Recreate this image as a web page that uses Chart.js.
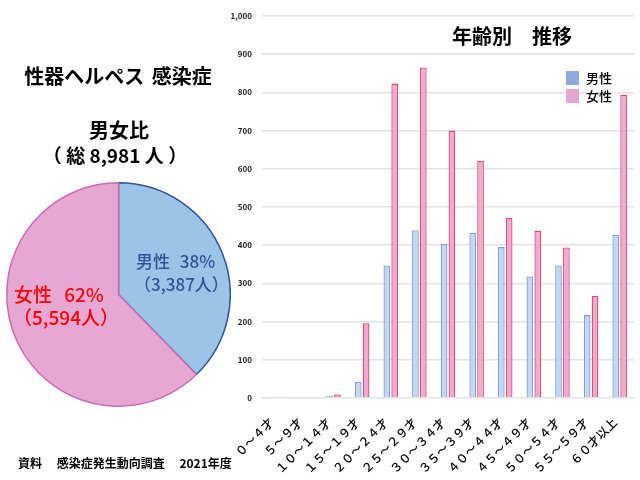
<!DOCTYPE html>
<html>
<head>
<meta charset="utf-8">
<script src="https://cdn.jsdelivr.net/npm/chart.js@4/dist/chart.umd.min.js"></script>
<style>
  html, body { margin:0; padding:0; background:#fff; }
  body { width:640px; height:480px; position:relative; overflow:hidden;
         font-family:"Noto Sans CJK JP","Noto Sans",sans-serif; color:#000; }
  .t { position:absolute; white-space:pre; line-height:1; }
  #bar { position:absolute; left:0; top:0; }
  #pie { position:absolute; left:6px; top:182px; }
  .lg { position:absolute; width:13px; height:14px; }
</style>
</head>
<body>
<canvas id="bar" width="640" height="480"></canvas>
<canvas id="pie" width="225" height="225"></canvas>

<div class="t" style="left:0;width:236px;text-align:center;top:66px;font-size:20px;font-weight:bold;word-spacing:3px;">性器ヘルペス 感染症</div>
<div class="t" style="left:0;width:238px;text-align:center;top:120px;font-size:20px;font-weight:bold;">男女比</div>
<div class="t" style="left:0;width:230px;text-align:center;top:145px;font-size:19px;font-weight:bold;">（ 総 8,981 人 ）</div>

<div class="t" style="left:136px;top:252px;font-size:17px;color:#2f5597;font-weight:500;word-spacing:6px;">男性 38%</div>
<div class="t" style="left:134px;top:275px;font-size:17px;color:#2f5597;font-weight:500;">（3,387人）</div>
<div class="t" style="left:14px;top:284px;font-size:19px;color:#ff0000;font-weight:500;word-spacing:8px;">女性 62%</div>
<div class="t" style="left:13px;top:307px;font-size:19px;color:#ff0000;font-weight:500;">（5,594人）</div>

<div class="t" style="left:452px;top:26px;font-size:20px;font-weight:bold;">年齢別　推移</div>

<div class="lg" style="left:566px;top:71px;background:#8eaadb;"></div>
<div class="t" style="left:586px;top:71px;font-size:13px;font-weight:500;">男性</div>
<div class="lg" style="left:566px;top:89px;background:#e6a6d2;"></div>
<div class="t" style="left:586px;top:89px;font-size:13px;font-weight:500;">女性</div>

<div class="t" style="left:18px;top:457px;font-size:12px;font-weight:bold;">資料　 感染症発生動向調査　 2021年度</div>

<script>
const ageGroups = ['０～４才','５～９才','１０～１４才','１５～１９才','２０～２４才','２５～２９才','３０～３４才','３５～３９才','４０～４４才','４５～４９才','５０～５４才','５５～５９才','６０才以上'];
const maleCounts   = [2, 0, 5, 42, 347, 439, 404, 432, 395, 318, 347, 217, 427];
const femaleCounts = [3, 2, 9, 196, 823, 865, 700, 621, 472, 437, 394, 267, 793];
const seriesNames = ['男性', '女性'];
const yTicks = [0,100,200,300,400,500,600,700,800,900,1000];
const genderLabels = ['男性', '女性'];
const genderTotals = [3387, 5594];

Chart.defaults.font.family = '"Noto Sans CJK JP","Noto Sans",sans-serif';
Chart.defaults.animation = false;

new Chart(document.getElementById('bar'), {
  type: 'bar',
  data: {
    labels: ageGroups,
    datasets: [
      { label: seriesNames[0], data: maleCounts, backgroundColor: '#c3d8f0', borderColor: '#7b9fd6', borderWidth: 1.3,
        categoryPercentage: 0.55, barPercentage: 0.85 },
      { label: seriesNames[1], data: femaleCounts, backgroundColor: '#eeaad6', borderColor: '#e04a65', borderWidth: 1.3,
        categoryPercentage: 0.55, barPercentage: 0.85 }
    ]
  },
  options: {
    responsive: false,
    devicePixelRatio: 1,
    animation: false,
    layout: { padding: { left: 220, top: 16, right: 6, bottom: 0 } },
    plugins: { legend: { display: false }, tooltip: { enabled: false } },
    scales: {
      x: {
        grid: { display: false },
        border: { display: false },
        ticks: { minRotation: 45, maxRotation: 45, color: '#000', font: { size: 12, weight: '500' }, padding: 9, labelOffset: -5, autoSkip: false },
        afterFit: s => { s.height = 82; }
      },
      y: {
        min: 0, max: 1000,
        afterBuildTicks: s => { s.ticks = yTicks.map(v => ({ value: v })); },
        grid: { color: '#e4e4e4', lineWidth: 1.6, drawTicks: false },
        border: { display: false },
        ticks: { color: '#222', font: { size: 8, weight: 'bold' }, padding: 10,
                 callback: v => v.toLocaleString('en-US') },
        afterFit: s => { s.width = 42; }
      }
    }
  }
});

new Chart(document.getElementById('pie'), {
  type: 'pie',
  data: {
    labels: genderLabels,
    datasets: [{ data: genderTotals, backgroundColor: ['#9dc3e6', '#e6a8d3'],
                 borderColor: ['#2f5597', '#c86cb6'], borderWidth: 1.5, hoverOffset: 0 }]
  },
  options: {
    responsive: false, devicePixelRatio: 1, animation: false,
    layout: { padding: 0 },
    plugins: { legend: { display: false }, tooltip: { enabled: false } }
  }
});
</script>
</body>
</html>
